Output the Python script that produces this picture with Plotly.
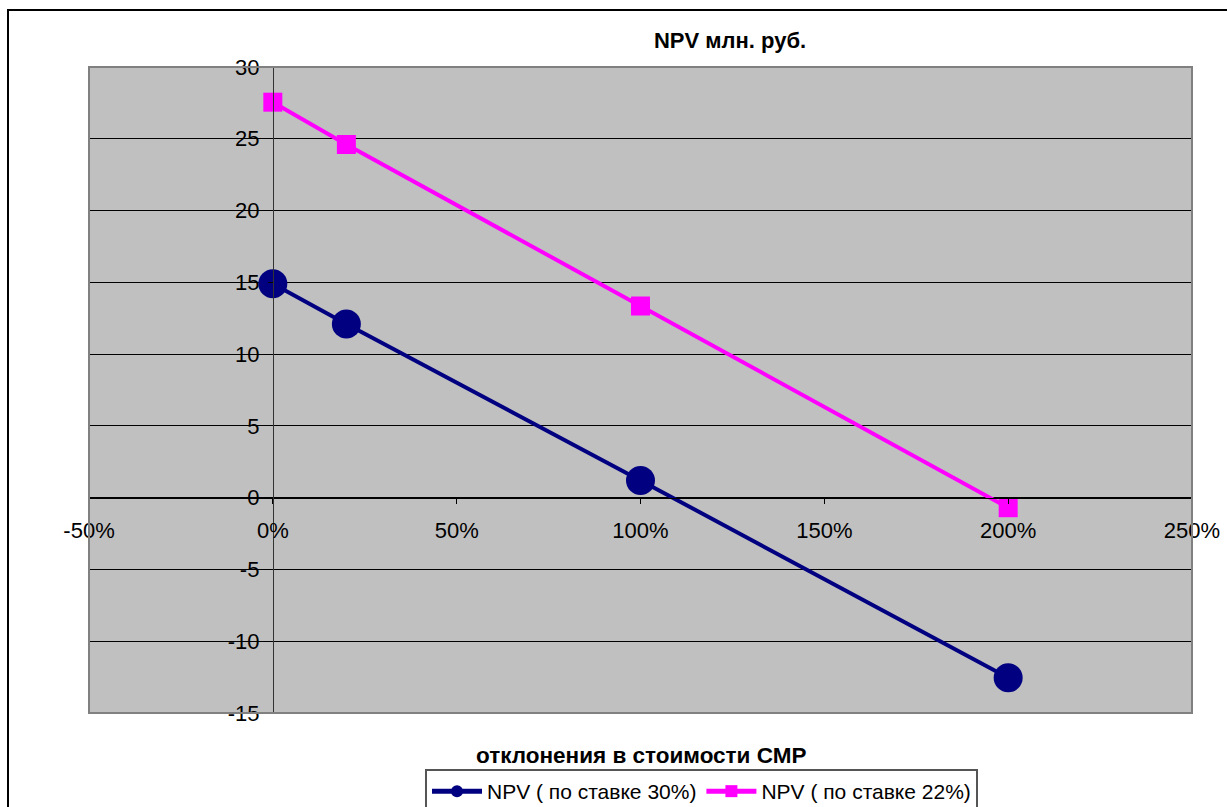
import plotly.graph_objects as go

# Deviation in construction cost (share) and NPV, mln rub.
deviation = [0.0, 0.2, 1.0, 2.0]
npv_30 = [14.9, 12.1, 1.2, -12.55]
npv_22 = [27.55, 24.6, 13.35, -0.7]

series_names = ["NPV ( по ставке 30%)", "NPV ( по ставке 22%)"]
chart_title = "NPV млн. руб."
x_title = "отклонения в стоимости СМР"

x_tick_vals = [-0.5, 0.0, 0.5, 1.0, 1.5, 2.0, 2.5]
x_tick_text = ["-50%", "0%", "50%", "100%", "150%", "200%", "250%"]
y_tick_vals = [-15, -10, -5, 0, 5, 10, 15, 20, 25, 30]
y_tick_text = ["-15", "-10", "-5", "0", "5", "10", "15", "20", "25", "30"]

W, H = 1227, 807
L, R, T, B = 89, 1192, 67, 713
FONT = "Liberation Sans, Arial, sans-serif"

x_range = [-0.5, 2.5]
y_range = [-15, 30]

fig = go.Figure()
fig.add_trace(go.Scatter(
    x=deviation, y=npv_30, name=series_names[0], mode="lines+markers",
    line=dict(color="#000080", width=4),
    marker=dict(symbol="circle", size=29, color="#000080"),
))
fig.add_trace(go.Scatter(
    x=deviation, y=npv_22, name=series_names[1], mode="lines+markers",
    line=dict(color="#FF00FF", width=4),
    marker=dict(symbol="square", size=19, color="#FF00FF"),
))

pw, ph = R - L, B - T


def px_x(v):
    return (v - L) / pw


def px_y(v):
    return (B - v) / ph


fig.update_layout(
    width=W, height=H,
    margin=dict(l=L, r=W - R, t=T, b=H - B, pad=0, autoexpand=False),
    paper_bgcolor="white",
    plot_bgcolor="#C0C0C0",
    font=dict(family=FONT, color="black", size=22),
    showlegend=True,
    title=dict(
        text="<b>" + chart_title + "</b>",
        font=dict(family=FONT, size=22, color="black"),
        xref="container", yref="container",
        x=730 / W, y=1 - 40 / H, xanchor="center", yanchor="middle",
    ),
    xaxis=dict(
        range=x_range, domain=[0, 1], automargin=False,
        anchor="free", position=(0 - y_range[0]) / (y_range[1] - y_range[0]),
        tickvals=x_tick_vals, ticktext=x_tick_text,
        ticks="outside", ticklen=5, tickcolor="black", tickwidth=1,
        ticklabelstandoff=8,
        showgrid=False, zeroline=False,
        showline=True, linecolor="black", linewidth=1,
        tickfont=dict(size=22, family=FONT),
    ),
    yaxis=dict(
        range=y_range, domain=[0, 1], automargin=False,
        anchor="free", position=(0 - x_range[0]) / (x_range[1] - x_range[0]),
        tickvals=y_tick_vals, ticktext=y_tick_text,
        ticks="outside", ticklen=5, tickcolor="black", tickwidth=1,
        ticklabelstandoff=4,
        showgrid=True, gridcolor="black", gridwidth=1,
        zeroline=False,
        showline=True, linecolor="#333333", linewidth=1,
        tickfont=dict(size=22, family=FONT),
    ),
    legend=dict(
        orientation="h",
        x=px_x(425), y=px_y(769), xanchor="left", yanchor="top",
        xref="paper", yref="paper",
        bgcolor="white", bordercolor="#555555", borderwidth=2,
        font=dict(family=FONT, size=21, color="black"),
        itemsizing="constant", itemwidth=50,
    ),
    annotations=[dict(
        text="<b>" + x_title + "</b>",
        xref="paper", yref="paper",
        x=0.5, y=px_y(755), xanchor="center", yanchor="middle",
        showarrow=False,
        font=dict(family=FONT, size=22.5, color="black"),
    )],
    shapes=[
        # plot area frame
        dict(type="rect", xref="paper", yref="paper", x0=0, y0=0, x1=1, y1=1,
             line=dict(color="#808080", width=2), layer="above"),
        # chart area frame
        dict(type="rect", xref="paper", yref="paper",
             x0=px_x(8), y0=px_y(H + 20), x1=px_x(W + 20), y1=px_y(10),
             line=dict(color="black", width=2), layer="below"),
    ],
)

fig.write_html("out.html")
